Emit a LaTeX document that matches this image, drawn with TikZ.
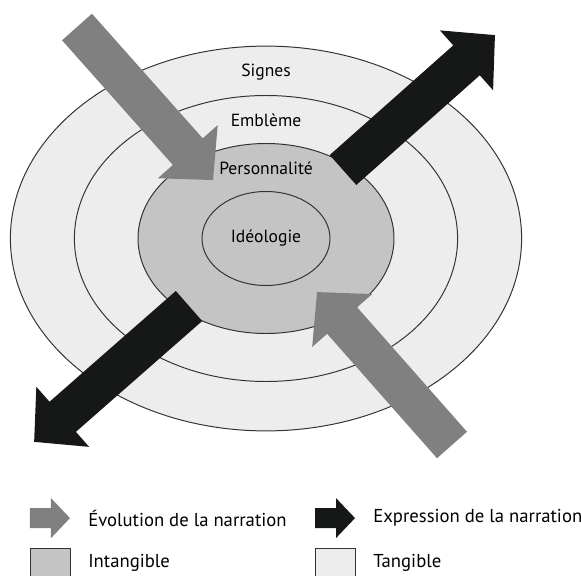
\documentclass[tikz,border=0pt]{standalone}
\usepackage{fontspec}
\setmainfont{PT Sans}
\definecolor{ringlight}{HTML}{EDEDED}
\definecolor{ringdark}{HTML}{C4C4C4}
\definecolor{arrowgray}{HTML}{7F807F}
\definecolor{arrowblack}{HTML}{161817}
% block arrow: style, tail, angle, length
\newcommand{\narrow}[4]{%
  \fill[shift={#2}, rotate=#3, #1] (0,-0.5) -- ({#4-0.95},-0.5) -- ({#4-0.95},-1) -- (#4,0)
    -- ({#4-0.95},1) -- ({#4-0.95},0.5) -- (0,0.5) -- cycle;}
\begin{document}
\begin{tikzpicture}[every node/.style={font=\fontsize{12.5}{15}\selectfont, inner sep=0pt},
  ring/.style={draw=black!80, line width=0.7pt},
  legendtext/.style={anchor=west, font=\fontsize{13.3}{16}\selectfont}]
\clip (-6.65,-8.4125) rectangle (7.875,5.9625);
\draw[ring, fill=ringlight] (0,0) ellipse [x radius=6.39, y radius=4.81];
\draw[ring, fill=ringlight] (0,0) ellipse [x radius=4.79, y radius=3.575];
\draw[ring, fill=ringdark] (0,0) ellipse [x radius=3.2, y radius=2.375];
\draw[ring, fill=ringdark] (0,0) ellipse [x radius=1.6, y radius=1.175];
\node (signes) at (0,4.16) {Signes};
\node (embleme) at (0,2.96) {Emblème};
\node (personnalite) at (0,1.76) {Personnalité};
\node (ideologie) at (0,0) {Idéologie};
\narrow{arrowgray}{(-4.725,5.2875)}{-48.37}{5.12}
\narrow{arrowblack}{(1.925,1.7125)}{41.6}{5.08}
\narrow{arrowblack}{(-1.925,-1.6875)}{221.26}{5.15}
\narrow{arrowgray}{(4.65,-5.1625)}{131.43}{5.1}
% legend
\narrow{arrowgray, scale=0.5}{(-5.9,-6.99)}{0}{2}
\node[legendtext] (evolution) at (-4.45,-6.99) {Évolution de la narration};
\narrow{arrowblack, scale=0.5}{(1.225,-6.99)}{0}{2}
\node[legendtext] (expression) at (2.675,-6.99) {Expression de la narration};
\draw[ring, fill=ringdark] (-5.9,-7.74) rectangle (-4.9,-8.74);
\node[legendtext] (intangible) at (-4.45,-8.11) {Intangible};
\draw[ring, fill=ringlight] (1.225,-7.74) rectangle (2.225,-8.74);
\node[legendtext] (tangible) at (2.675,-8.11) {Tangible};
\end{tikzpicture}
\end{document}
